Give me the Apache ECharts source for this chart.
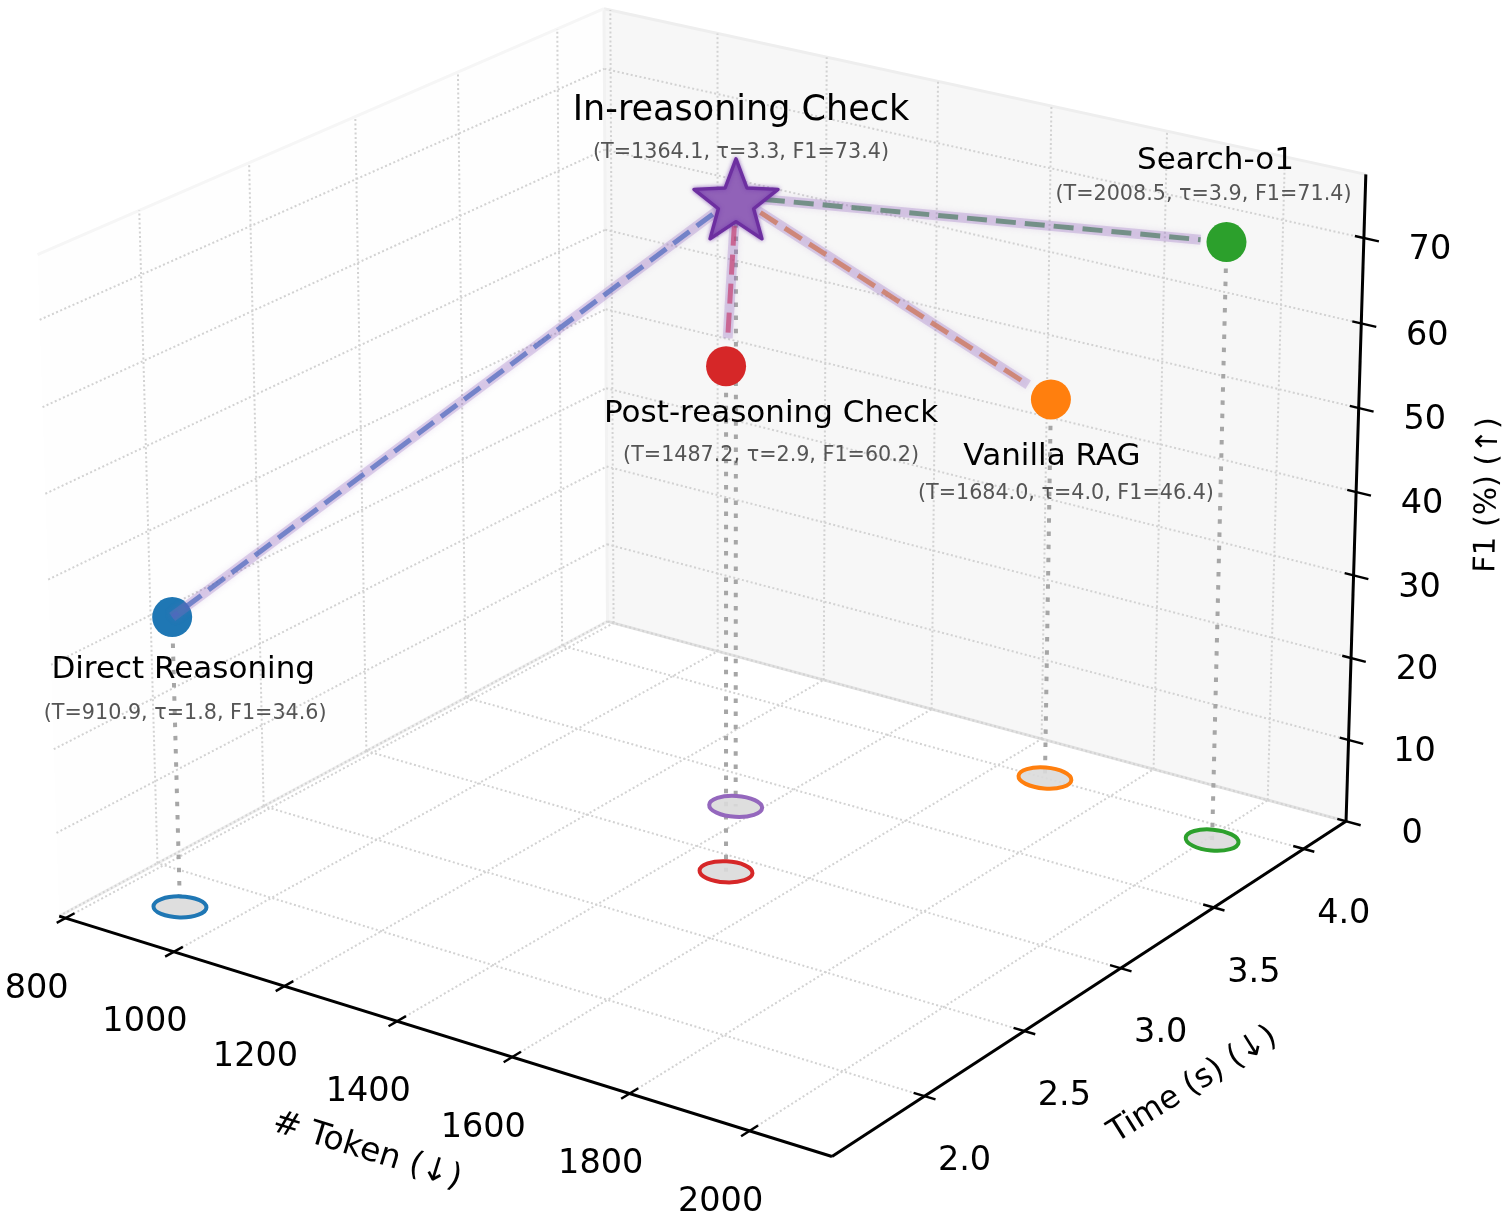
<!DOCTYPE html>
<html><head><meta charset="utf-8"><style>html,body{margin:0;background:#fff}#c{width:1509px;height:1221px}</style>
<script src="https://cdn.jsdelivr.net/npm/echarts@6/dist/echarts.min.js"></script></head><body><div id="c"></div><script>
// Trade-off between token count, latency and F1 for five retrieval strategies
const methods=['Direct Reasoning','Post-reasoning Check','In-reasoning Check','Vanilla RAG','Search-o1'];
const tokens=[910.9,1487.2,1364.1,1684.0,2008.5];
const times=[1.8,2.9,3.3,4.0,3.9];
const f1=[34.6,60.2,73.4,46.4,71.4];
const markColors=['#1f77b4','#d62728','#9467bd','#ff7f0e','#2ca02c'];
const linkColors=['rgba(78,106,190,.72)','rgba(196,60,110,.68)',null,'rgba(205,120,95,.8)','rgba(100,135,120,.85)'];
const tokenTicks=[800,1000,1200,1400,1600,1800,2000];
const timeTicks=[2.0,2.5,3.0,3.5,4.0];
const f1Ticks=[0,10,20,30,40,50,60,70];
// Axis limits of the 3D box
const T0=788.1,T1=2135.1,S0=1.552,S1=4.241,F1=77.4;
// Perspective camera: homogeneous 3x4 matrix over centred axis units
const camera=[0.318737,0.223937,-0.011793,0.696562,0.072911,-0.088010,-0.344793,0.515156,-0.029237,0.034124,-0.016287];
function project(t,s,f){const u=(t-1400)/600,v=s-3,w=(f-40)/40,c=camera,d=c[8]*u+c[9]*v+c[10]*w+1;
 return [1000*(c[0]*u+c[1]*v+c[2]*w+c[3])/d,1000*(c[4]*u+c[5]*v+c[6]*w+c[7])/d];}

const seg=(a,b)=>[...a,...b];
const gridSegs=[];
for(const t of tokenTicks){gridSegs.push(seg(project(t,S0,0),project(t,S1,0)),seg(project(t,S1,0),project(t,S1,F1)));}
for(const s of timeTicks){gridSegs.push(seg(project(T1,s,0),project(T0,s,0)),seg(project(T0,s,0),project(T0,s,F1)));}
for(const f of f1Ticks){gridSegs.push(seg(project(T0,S0,f),project(T0,S1,f)),seg(project(T0,S1,f),project(T1,S1,f)));}
const paneEdges=[[T0,S1,0,T1,S1,0],[T0,S1,F1,T1,S1,F1],[T0,S1,0,T0,S1,F1],[T0,S0,0,T0,S1,0],[T0,S0,F1,T0,S1,F1]].map(e=>seg(project(e[0],e[1],e[2]),project(e[3],e[4],e[5])));
const paneEdgeColors=['#e2e2e2','#eeeeee','#f2f2f2','#efefef','#f6f6f6'];
const axisSegs=[seg(project(T0,S0,0),project(T1,S0,0)),seg(project(T1,S0,0),project(T1,S1,0)),seg(project(T1,S1,0),project(T1,S1,F1))];
const tickSegs=[];
tokenTicks.forEach(t=>tickSegs.push(seg(project(t,S0-.04,0),project(t,S0+.04,0))));
timeTicks.forEach(s=>tickSegs.push(seg(project(T1-18,s,0),project(T1+18,s,0))));
f1Ticks.forEach(f=>tickSegs.push(seg(project(T1-15,S1,f),project(T1+25,S1,f))));
const screenMarks=methods.map((m,i)=>project(tokens[i],times[i],f1[i]));
const floorMarks=methods.map((m,i)=>project(tokens[i],times[i],0));
const dropSegs=methods.map((m,i)=>seg(screenMarks[i],floorMarks[i]));
// Dashed links run from the star toward each method and stop short of its dot
const STAR=2,linkGap=[0,28,0,27,26],linkIdx=[0,1,3,4];
const linkSegs=linkIdx.map(i=>{const a=screenMarks[STAR],b=screenMarks[i],d=Math.hypot(b[0]-a[0],b[1]-a[1]),k=(d-linkGap[i])/d;return [a[0],a[1],a[0]+(b[0]-a[0])*k,a[1]+(b[1]-a[1])*k]});

const FONT='"DejaVu Sans"';
function segments(name,segs,style,z,styleFor){return {type:'custom',name,z,coordinateSystem:'cartesian2d',silent:true,clip:false,data:segs,
 renderItem:(p,api)=>{const a=api.coord([api.value(0),api.value(1)]),b=api.coord([api.value(2),api.value(3)]);
  return {type:'line',shape:{x1:a[0],y1:a[1],x2:b[0],y2:b[1]},style:styleFor?styleFor(p.dataIndex):style}}};}
function panes(name,quads,fill,z){return {type:'custom',name,z,coordinateSystem:'cartesian2d',silent:true,clip:false,data:quads.map(q=>q.flat()),
 renderItem:(p,api)=>{const pts=[0,2,4,6].map(k=>api.coord([api.value(k),api.value(k+1)]));return {type:'polygon',shape:{points:pts},style:{fill,stroke:null}}}};}
function texts(name,items,z){return {type:'custom',name,z,coordinateSystem:'cartesian2d',silent:true,clip:false,data:items.map(t=>[t.p[0],t.p[1]]),
 renderItem:(p,api)=>{const t=items[p.dataIndex],c=api.coord([api.value(0),api.value(1)]);
  return {type:'text',x:c[0],y:c[1],rotation:t.r||0,style:{text:t.s,font:t.size+'px '+FONT,fill:t.c||'#000',align:'center',verticalAlign:'middle'}}}};}
const off=(p,o)=>[p[0]+o[0],p[1]+o[1]];
const nameOff=[[11,53],[45,48],[5,-86],[1,58],[-11,-81]];
const statOff=[[13,97],[45,89],[5,-44],[15,94],[-23,-47]];
const nameSize=[31,31,35,31,31];
const stat=i=>`(T=${tokens[i].toFixed(1)}, τ=${times[i].toFixed(1)}, F1=${f1[i].toFixed(1)})`;
const labelItems=[];
methods.forEach((m,i)=>{labelItems.push({p:off(screenMarks[i],nameOff[i]),s:m,size:nameSize[i]});labelItems.push({p:off(screenMarks[i],statOff[i]),s:stat(i),size:20.7,c:'#555555'});});
const tickItems=[];
tokenTicks.forEach(t=>tickItems.push({p:off(project(t,S0,0),[-29,71]),s:String(t),size:33.5}));
timeTicks.forEach(s=>tickItems.push({p:off(project(T1,s,0),[40,65.5]),s:s.toFixed(1),size:33.5}));
f1Ticks.forEach(f=>tickItems.push({p:off(project(T1,S1,f),[66,12.5]),s:String(f),size:33.5}));
const titleItems=[{p:[367,1151],s:'# Token (↓)',size:33,r:-0.3},{p:[1193,1085],s:'Time (s) (↓)',size:32,r:0.56},{p:[1488,495],s:'F1 (%) (↑)',size:30,r:1.55}];
const ellipseTilt=[-0.02,-0.05,-0.06,-0.08,-0.09];
const starPath=(()=>{let d='';for(let k=0;k<10;k++){const r=k%2?0.42:1,a=k*Math.PI/5;d+=(k?'L':'M')+(r*Math.sin(a)*100).toFixed(2)+' '+(-r*Math.cos(a)*100).toFixed(2)}return 'path://'+d+'Z'})();
const option={animation:false,backgroundColor:'#fff',
 grid:{left:0,right:0,top:0,bottom:0},
 xAxis:{type:'value',min:0,max:1509,show:false},
 yAxis:{type:'value',min:0,max:1221,inverse:true,show:false},
 series:[
  panes('back wall',[[project(T0,S1,0),project(T1,S1,0),project(T1,S1,F1),project(T0,S1,F1)]],'#f7f7f7',1),
  panes('side wall',[[project(T0,S0,0),project(T0,S1,0),project(T0,S1,F1),project(T0,S0,F1)]],'#fefefe',1),
  segments('pane edges',paneEdges,null,2,i=>({stroke:paneEdgeColors[i],lineWidth:3})),
  segments('grid',gridSegs,{stroke:'#d2d2d2',lineWidth:2,lineDash:[2,2.5]},3),
  segments('axes',axisSegs,{stroke:'#000',lineWidth:3},20),
  segments('ticks',tickSegs,{stroke:'#000',lineWidth:2.4},20),
  segments('drop lines',dropSegs,{stroke:'#a6a6a6',lineWidth:4,lineDash:[4.5,8.7]},4),
  {type:'custom',name:'floor rings',z:5,coordinateSystem:'cartesian2d',silent:true,clip:false,data:floorMarks,
   renderItem:(p,api)=>{const c=api.coord([api.value(0),api.value(1)]);
    return {type:'ellipse',x:c[0],y:c[1],rotation:ellipseTilt[p.dataIndex],shape:{cx:0,cy:0,rx:26.5,ry:10.5},style:{fill:'rgba(218,218,218,.9)',stroke:markColors[p.dataIndex],lineWidth:4}}}},
  {type:'scatter',name:methods[0],z:6,silent:true,clip:false,data:[screenMarks[0]],symbolSize:40,itemStyle:{color:markColors[0],opacity:1}},
  segments('link glow',linkSegs,{stroke:'rgba(148,103,189,.28)',lineWidth:10,shadowBlur:6,shadowColor:'rgba(148,103,189,.55)'},7),
  segments('links',linkSegs,null,8,i=>({stroke:linkColors[linkIdx[i]],lineWidth:5,lineDash:[20,9]})),
  ...[1,3,4].map(i=>({type:'scatter',name:methods[i],z:9,silent:true,clip:false,data:[screenMarks[i]],symbolSize:40,itemStyle:{color:markColors[i],opacity:1}})),
  {type:'scatter',name:methods[STAR],z:10,silent:true,clip:false,data:[screenMarks[STAR]],symbol:starPath,symbolSize:[84,80],symbolOffset:[0,2],
   itemStyle:{color:'#9162b8',opacity:1,borderColor:'#6d2fa0',borderWidth:3.4,borderJoin:'round',shadowBlur:4,shadowColor:'rgba(110,50,170,.6)'}},
  texts('labels',labelItems,12),texts('tick labels',tickItems,12),texts('axis titles',titleItems,12)
 ]};
const chart=echarts.init(document.getElementById('c'),null,{renderer:'canvas'});
chart.setOption(option);
</script></body></html>
